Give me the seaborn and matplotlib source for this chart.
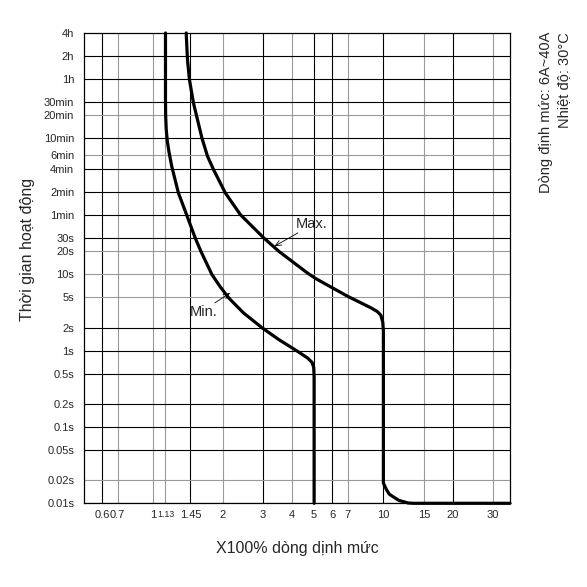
import matplotlib
matplotlib.use('Agg')
import matplotlib.pyplot as plt
from matplotlib.ticker import FixedLocator, FixedFormatter, NullLocator
import seaborn as sns
import pandas as pd

# ── DATA ─────────────────────────────────────────────
X_TICKS = [0.6, 0.7, 1, 1.13, 1.45, 2, 3, 4, 5, 6, 7, 10, 15, 20, 30]
X_LABELS = ["0.6", "0.7", "1", "1.13", "1.45", "2", "3", "4", "5", "6", "7", "10", "15", "20", "30"]
X_GRAY = [0.7, 1, 1.13, 2, 4, 7, 15, 30]

Y_TICKS = [14400, 7200, 3600, 1800, 1200, 600, 360, 240, 120, 60, 30, 20, 10, 5, 2, 1,
           0.5, 0.2, 0.1, 0.05, 0.02, 0.01]
Y_LABELS = ["4h", "2h", "1h", "30min", "20min", "10min", "6min", "4min", "2min", "1min",
            "30s", "20s", "10s", "5s", "2s", "1s", "0.5s", "0.2s", "0.1s", "0.05s", "0.02s", "0.01s"]
Y_GRAY = [1200, 360, 20, 10, 5, 0.02]

# Min. curve (x = multiple of rated current, t = seconds)
MIN_X = [1.13, 1.13, 1.13, 1.132, 1.138, 1.15, 1.17, 1.203, 1.286, 1.399, 1.521, 1.611,
         1.799, 1.95, 2.126, 2.47, 2.975, 3.515, 4.23, 4.68, 4.9, 4.98, 5.0, 5.0]
MIN_T = [14400, 3600, 1929, 1200, 800, 560, 400, 258, 116, 59, 29.9, 19.9,
         9.88, 6.9, 4.9, 3.1, 1.98, 1.39, 0.98, 0.80, 0.70, 0.6, 0.45, 0.01]

# Max. curve
MAX_X = [1.39, 1.408, 1.436, 1.495, 1.627, 1.721, 1.828, 2.056, 2.39, 3.02, 3.515, 4.67,
         5.08, 6.99, 8.84, 9.4, 9.75, 9.94, 10.0, 10.0, 10.0, 10.3, 10.6, 11.2, 11.7, 12.8,
         13.5, 35.5]
MAX_T = [14400, 6440, 3525, 1746, 608, 349, 234, 116, 60.3, 29.9, 19.9, 10.4,
         8.77, 5.14, 3.62, 3.25, 2.9, 2.35, 1.8, 0.0218, 0.0184, 0.0152, 0.0132, 0.0118,
         0.0109, 0.0101, 0.01, 0.01]

# ── STYLE ────────────────────────────────────────────
sns.set_theme(style="white")
plt.rcParams['font.family'] = ['Liberation Sans', 'DejaVu Sans']

fig = plt.figure(figsize=(5.87, 5.87), dpi=100)
ax = fig.add_axes([84/587, 1-503.3/587, (510-84)/587, (503.3-33)/587])
ax.set_xscale('log')
ax.set_yscale('log')
ax.set_xlim(0.5, 35.5)
ax.set_ylim(0.01, 14400)

# grid lines
for xv in X_TICKS:
    ax.axvline(xv, color="#9a9a9a" if xv in X_GRAY else "black", lw=0.8, zorder=1)
for yv in Y_TICKS[1:]:
    ax.axhline(yv, color="#9a9a9a" if yv in Y_GRAY else "black", lw=0.8, zorder=1)

curves = pd.concat([
    pd.DataFrame({"x": MIN_X, "t": MIN_T, "curve": "Min."}),
    pd.DataFrame({"x": MAX_X, "t": MAX_T, "curve": "Max."}),
])
sns.lineplot(data=curves, x="x", y="t", units="curve", estimator=None, sort=False,
             color="black", lw=2.3, ax=ax, legend=False, zorder=3, clip_on=False)
for ln in ax.get_lines()[-2:]:
    ln.set_solid_joinstyle('round')

ax.xaxis.set_major_locator(FixedLocator(X_TICKS))
ax.xaxis.set_major_formatter(FixedFormatter(X_LABELS))
ax.xaxis.set_minor_locator(NullLocator())
ax.yaxis.set_major_locator(FixedLocator(Y_TICKS))
ax.yaxis.set_major_formatter(FixedFormatter(Y_LABELS))
ax.yaxis.set_minor_locator(NullLocator())
ax.tick_params(axis='x', length=0, pad=5, labelsize=8)
ax.tick_params(axis='y', length=0, pad=7, labelsize=8)
for lab in ax.get_xticklabels():
    if lab.get_text() == "1.13":
        lab.set_fontsize(6.3)
ax.set_xlabel("")
ax.set_ylabel("")
for s in ax.spines.values():
    s.set_color("black")
    s.set_linewidth(0.9)

# annotations
arrow = dict(arrowstyle='->,head_length=0.35,head_width=0.15', lw=0.6, color='black',
             shrinkA=0, shrinkB=0)
ax.annotate('', xy=(3.36, 23.2), xytext=(4.25, 34.7), arrowprops=arrow, zorder=4)
ax.text(4.16, 40.7, "Max.", fontsize=10.5, ha='left', va='baseline', zorder=4)
ax.annotate('', xy=(2.16, 5.69), xytext=(1.85, 4.21), arrowprops=arrow, zorder=4)
ax.text(1.446, 2.81, "Min.", fontsize=10.5, ha='left', va='baseline', zorder=4)

fig.text(28/587, 1-249/587, "Thời gian hoạt động", rotation=90, ha='center', va='center', fontsize=11.5)
fig.text(297/587, 1-549/587, "X100% dòng dịnh mức", ha='center', va='center', fontsize=11.5)
fig.text(546/587, 1-32/587, "Dòng định mức: 6A~40A", rotation=90, ha='center', va='top', fontsize=10.5)
fig.text(564/587, 1-32/587, "Nhiệt độ: 30°C", rotation=90, ha='center', va='top', fontsize=10.5)

fig.savefig("out.png", dpi=100, facecolor="white")
